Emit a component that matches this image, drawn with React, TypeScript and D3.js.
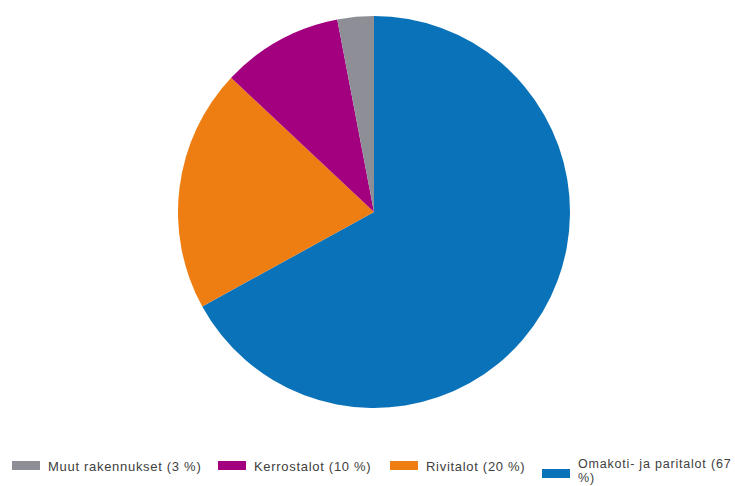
import React from "react";
import * as d3 from "d3";

const categories = ["Omakoti- ja paritalot", "Rivitalot", "Kerrostalot", "Muut rakennukset"];
const values = [67, 20, 10, 3];
const colors = ["#0a72b8", "#ee7d12", "#a3007f", "#8e8e96"];
const legendOrder = [3, 2, 1, 0];

export default function App() {
  const W = 735, H = 486;
  const cx = 374, cy = 212, r = 196;
  const pie = d3.pie<number>().sort(null).value((d) => d)(values);
  const arc = d3.arc<d3.PieArcDatum<number>>().innerRadius(0).outerRadius(r);
  const legendX = [12, 218, 390, 542];
  return (
    <svg width={W} height={H} style={{ position: "absolute", left: 0, top: 0, background: "#fff" }}
      fontFamily="Liberation Sans, Arial, sans-serif">
      <g transform={`translate(${cx},${cy})`}>
        {pie.map((p, i) => (
          <path key={i} d={arc(p) || ""} fill={colors[i]} />
        ))}
      </g>
      {legendOrder.map((ci, k) => {
        const x = legendX[k];
        const isLast = ci === 0;
        const sy = isLast ? 469 : 461;
        return (
          <g key={ci}>
            <rect x={x} y={sy} width={28} height={9} fill={colors[ci]} />
            {isLast ? (
              <>
                <text x={x + 36} y={468} fontSize={12.5} fill="#404040" letterSpacing={0.8}>
                  {`${categories[ci]} (${values[ci]}`}
                </text>
                <text x={x + 36} y={482} fontSize={12.5} fill="#404040" letterSpacing={0.8}>
                  %)
                </text>
              </>
            ) : (
              <text x={x + 36} y={471} fontSize={13} fill="#404040" letterSpacing={0.7}>{`${categories[ci]} (${values[ci]} %)`}</text>
            )}
          </g>
        );
      })}
    </svg>
  );
}
